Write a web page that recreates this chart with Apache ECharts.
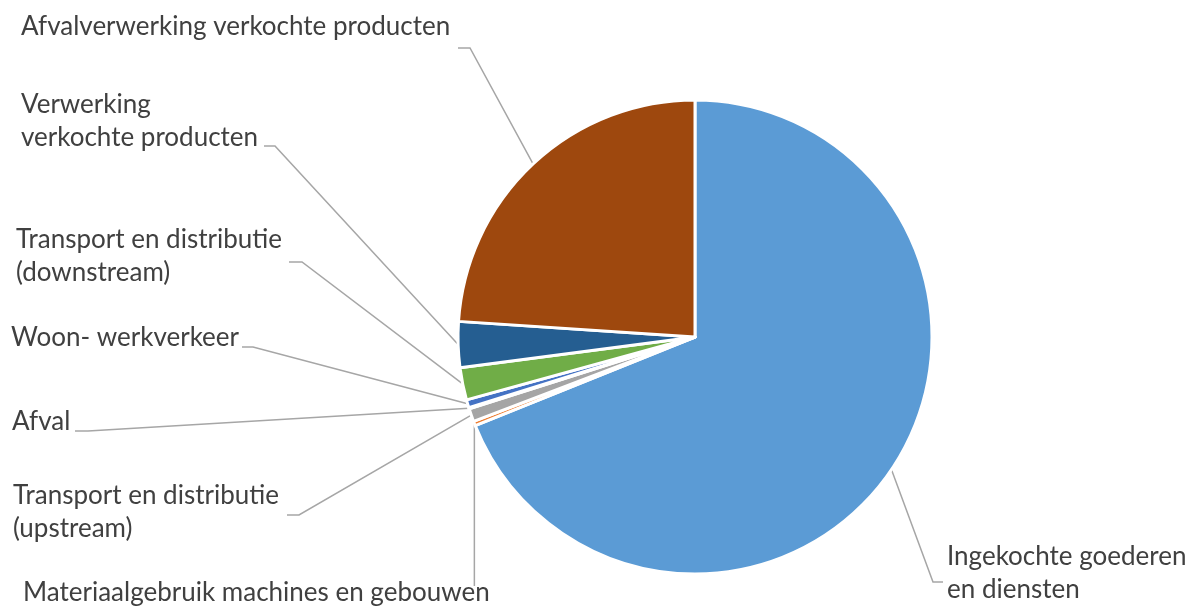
<!DOCTYPE html>
<html>
<head>
<meta charset="utf-8">
<script src="https://cdn.jsdelivr.net/npm/echarts@6/dist/echarts.min.js"></script>
<style>
html,body{margin:0;padding:0;background:#fff;}
#main{width:1203px;height:608px;}
</style>
</head>
<body>
<div id="main"></div>
<script>
// Data
const categories = [
  'Ingekochte goederen\nen diensten',
  'Materiaalgebruik machines en gebouwen',
  'Transport en distributie\n(upstream)',
  'Afval',
  'Woon- werkverkeer',
  'Transport en distributie\n(downstream)',
  'Verwerking\nverkochte producten',
  'Afvalverwerking verkochte producten'
];
const values = [68.9, 0.3, 0.9, 0.08, 0.55, 2.2, 3.12, 23.95];
const colors = ['#5B9BD5', '#ED7D31', '#A5A5A5', '#FFC000', '#4472C4', '#70AD47', '#255E91', '#9E480E'];

// Label layout (top-left of each text block) and leader line elbows
const labelPos = [
  [947, 540], [23, 576], [13, 479], [12, 405], [11, 321], [16, 223], [21, 88], [21, 10]
];
const elbows = [
  [[933, 582], [943, 582]],
  null,
  [[299, 515], [287, 515]],
  [[88, 431], [75, 431]],
  [[253, 347], [242, 347]],
  [[302, 262], [289, 262]],
  [[275, 146], [264, 146]],
  [[470, 48], [458, 48]]
];

const chart = echarts.init(document.getElementById('main'));
const center = [695, 337];
const radius = 237;

chart.setOption({
  animation: false,
  backgroundColor: '#ffffff',
  series: [{
    type: 'pie',
    center: center,
    radius: radius,
    startAngle: 90,
    clockwise: true,
    avoidLabelOverlap: false,
    data: categories.map((c, i) => ({ name: c, value: values[i], itemStyle: { color: colors[i] } })),
    itemStyle: { borderColor: '#ffffff', borderWidth: 3 },
    label: {
      show: true,
      formatter: '{b}',
      color: '#404040',
      fontFamily: 'Lato',
      fontSize: 26,
      lineHeight: 33
    },
    labelLine: {
      show: true,
      length: 10,
      length2: 10,
      lineStyle: { color: '#A6A6A6', width: 1.5 }
    },
    labelLayout: function (params) {
      const i = params.dataIndex;
      let p0 = params.labelLinePoints ? params.labelLinePoints[0] : null;
      if (!p0) {
        const total = values.reduce((a, b) => a + b, 0);
        let acc = 0;
        for (let k = 0; k < i; k++) acc += values[k];
        const mid = (acc + values[i] / 2) / total * Math.PI * 2;
        p0 = [center[0] + radius * Math.sin(mid), center[1] - radius * Math.cos(mid)];
      }
      let pts;
      if (elbows[i]) {
        pts = [p0, elbows[i][0], elbows[i][1]];
      } else {
        pts = [p0, [p0[0], 586], [p0[0], 586]];
      }
      return {
        x: labelPos[i][0],
        y: labelPos[i][1],
        align: 'left',
        verticalAlign: 'top',
        labelLinePoints: pts
      };
    }
  }]
});
</script>
</body>
</html>
